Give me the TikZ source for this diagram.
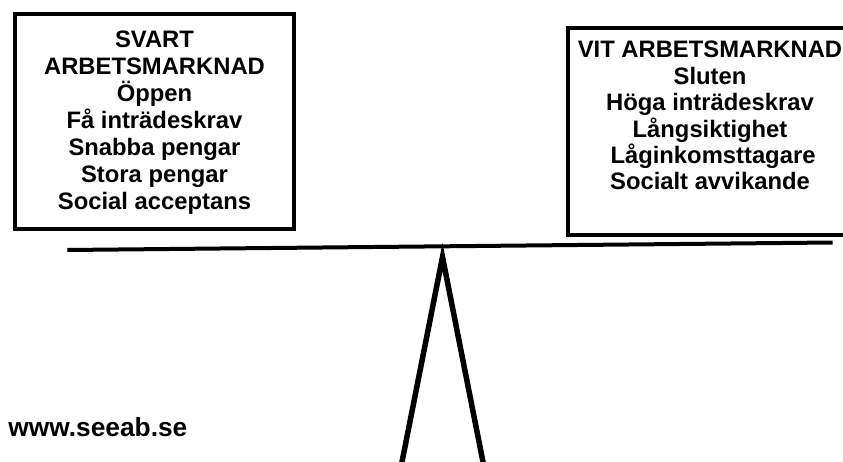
\documentclass[tikz,border=0pt]{standalone}
\usepackage{fontspec}
\setmainfont{Liberation Sans}
\begin{document}
\begin{tikzpicture}[x=1pt,y=-1pt,
  box/.style={line width=4pt},
  lbl/.style={anchor=base,inner sep=0pt,font=\fontsize{23.8pt}{26.8pt}\selectfont\bfseries},
  url/.style={anchor=base west,inner sep=0pt,font=\fontsize{26.3pt}{30pt}\selectfont\bfseries},
  beamline/.style={line width=4pt},
  fulcrum/.style={line width=5.5pt,line join=miter}
]
\useasboundingbox (0,0) rectangle (843,462);
% left box
\draw[box] (14.5,14) rectangle (294,229);
\node[lbl] (l1) at (154.5,48) {SVART};
\node[lbl] (l2) at (154.5,75) {ARBETSMARKNAD};
\node[lbl] (l3) at (154.5,102) {Öppen};
\node[lbl] (l4) at (154.5,129) {Få inträdeskrav};
\node[lbl] (l5) at (154.5,156) {Snabba pengar};
\node[lbl] (l6) at (154.5,183) {Stora pengar};
\node[lbl] (l7) at (154.5,210) {Social acceptans};
% right box
\draw[box] (567.5,28.5) rectangle (858,235);
\node[lbl] (r1) at (710,58) {VIT ARBETSMARKNAD};
\node[lbl] (r2) at (710,84.5) {Sluten};
\node[lbl] (r3) at (710,111) {Höga inträdeskrav};
\node[lbl] (r4) at (710,137.3) {Långsiktighet};
\node[lbl] (r5) at (713,163.6) {Låginkomsttagare};
\node[lbl] (r6) at (710,190) {Socialt avvikande};
% beam
\coordinate (bl) at (67.3,250);
\coordinate (br) at (832.7,242.5);
\draw[beamline] (bl) -- (br);
% fulcrum
\coordinate (apex) at (442.5,257);
\coordinate (fl) at (401.2,466);
\coordinate (fr) at (483.8,466);
\draw[fulcrum] (fl) -- (apex) -- (fr) -- cycle;
% url
\node[url] (www) at (8.3,436.7) {www.seeab.se};
\end{tikzpicture}
\end{document}
